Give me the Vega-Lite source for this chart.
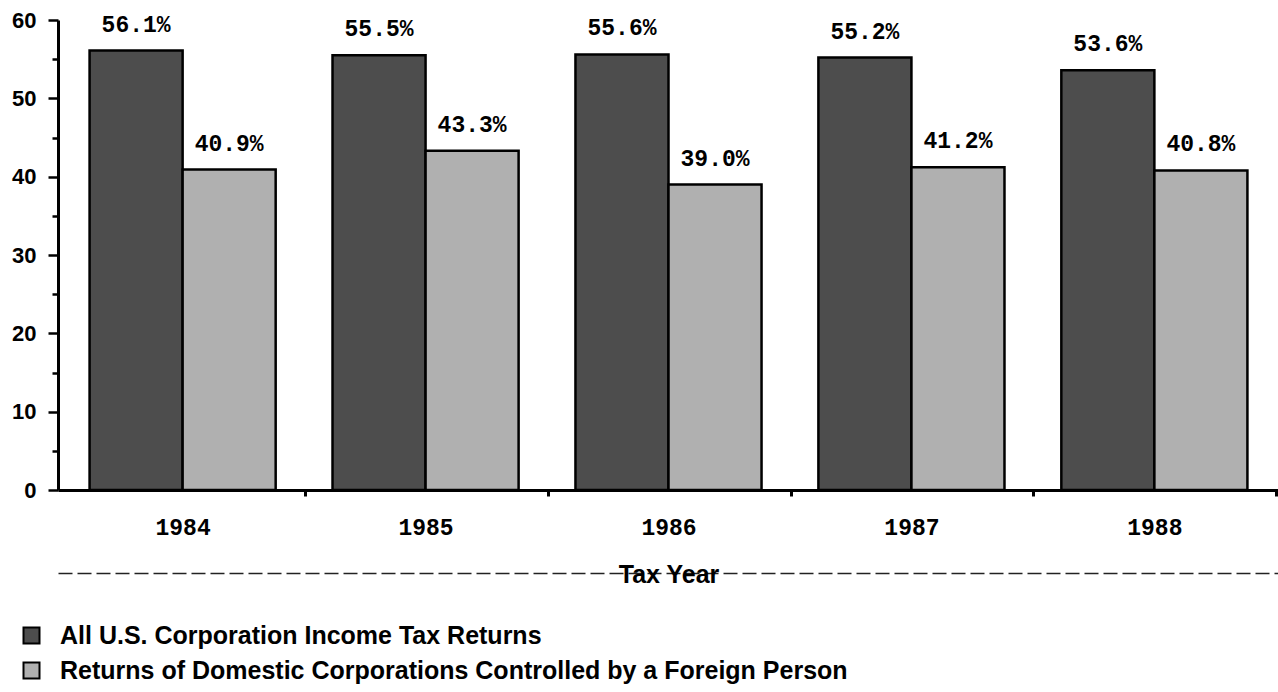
{
  "$schema": "https://vega.github.io/schema/vega-lite/v6.json",
  "width": 1221,
  "height": 470,
  "autosize": {"type": "none"},
  "padding": {"left": 58, "top": 20, "right": 0, "bottom": 202},
  "background": "white",
  "config": {"view": {"stroke": null}, "font": "Liberation Sans"},
  "data": {
    "values": [
      {"year": "1984", "series": "All U.S. Corporation Income Tax Returns", "value": 56.1},
      {"year": "1984", "series": "Returns of Domestic Corporations Controlled by a Foreign Person", "value": 40.9},
      {"year": "1985", "series": "All U.S. Corporation Income Tax Returns", "value": 55.5},
      {"year": "1985", "series": "Returns of Domestic Corporations Controlled by a Foreign Person", "value": 43.3},
      {"year": "1986", "series": "All U.S. Corporation Income Tax Returns", "value": 55.6},
      {"year": "1986", "series": "Returns of Domestic Corporations Controlled by a Foreign Person", "value": 39.0},
      {"year": "1987", "series": "All U.S. Corporation Income Tax Returns", "value": 55.2},
      {"year": "1987", "series": "Returns of Domestic Corporations Controlled by a Foreign Person", "value": 41.2},
      {"year": "1988", "series": "All U.S. Corporation Income Tax Returns", "value": 53.6},
      {"year": "1988", "series": "Returns of Domestic Corporations Controlled by a Foreign Person", "value": 40.8}
    ]
  },
  "encoding": {
    "y": {
      "field": "value",
      "type": "quantitative",
      "scale": {"domain": [0, 60], "nice": false},
      "axis": {
        "title": null,
        "grid": false,
        "values": [0, 5, 10, 15, 20, 25, 30, 35, 40, 45, 50, 55, 60],
        "labelExpr": "datum.value % 10 === 0 ? datum.label : ''",
        "tickSize": {"condition": {"test": "datum.value % 10 === 0", "value": 10}, "value": 6},
        "tickWidth": 2.5,
        "tickColor": "black",
        "domainColor": "black",
        "domainWidth": 3,
        "labelFont": "Liberation Sans",
        "labelFontWeight": "bold",
        "labelFontSize": 22,
        "labelColor": "black",
        "labelPadding": 12
      }
    },
    "xOffset": {
      "field": "series",
      "type": "nominal",
      "sort": ["All U.S. Corporation Income Tax Returns", "Returns of Domestic Corporations Controlled by a Foreign Person"]
    }
  },
  "layer": [
    {
      "mark": {"type": "bar", "stroke": "black", "strokeWidth": 2.5},
      "encoding": {
        "x": {
          "field": "year",
          "type": "nominal",
          "scale": {"paddingInner": 0.234, "paddingOuter": 0.13},
          "axis": {
            "title": null,
            "labelAngle": 0,
            "labelFont": "Liberation Mono",
            "labelFontWeight": "bold",
            "labelFontSize": 23,
            "labelColor": "black",
            "labelPadding": 20,
            "domainWidth": 3,
            "domainColor": "black",
            "tickOffset": 122,
            "labelOffset": -122,
            "tickSize": 6,
            "tickWidth": 3,
            "tickColor": "black"
          }
        },
        "color": {
          "field": "series",
          "type": "nominal",
          "sort": ["All U.S. Corporation Income Tax Returns", "Returns of Domestic Corporations Controlled by a Foreign Person"],
          "scale": {"range": ["#4d4d4d", "#b0b0b0"]},
          "legend": {
            "title": null,
            "orient": "none",
            "legendX": -39,
            "legendY": 603,
            "symbolType": "square",
            "symbolSize": 256,
            "symbolStrokeColor": "black",
            "symbolStrokeWidth": 2,
            "symbolOpacity": 1,
            "labelFont": "Liberation Sans",
            "labelFontSize": 25,
            "labelFontWeight": "bold",
            "labelColor": "black",
            "labelLimit": 1200,
            "labelOffset": 16,
            "rowPadding": 9
          }
        }
      }
    },
    {
      "transform": [{"calculate": "format(datum.value, '.1f') + '%'", "as": "label"}],
      "mark": {"type": "text", "baseline": "alphabetic", "dy": -19, "font": "Liberation Mono", "fontWeight": "bold", "fontSize": 23, "color": "black"},
      "encoding": {
        "x": {
          "field": "year",
          "type": "nominal",
          "axis": {
            "title": "Tax Year",
            "orient": "bottom",
            "offset": 83,
            "labels": false,
            "ticks": false,
            "domainDash": [14, 5],
            "domainWidth": 1.5,
            "domainColor": "#222222",
            "titleFont": "Liberation Sans",
            "titleFontSize": 25,
            "titleFontWeight": "bold",
            "titleColor": "black",
            "titlePadding": -11
          }
        },
        "text": {"field": "label", "type": "nominal"}
      }
    }
  ],
  "resolve": {"axis": {"x": "independent"}}
}
